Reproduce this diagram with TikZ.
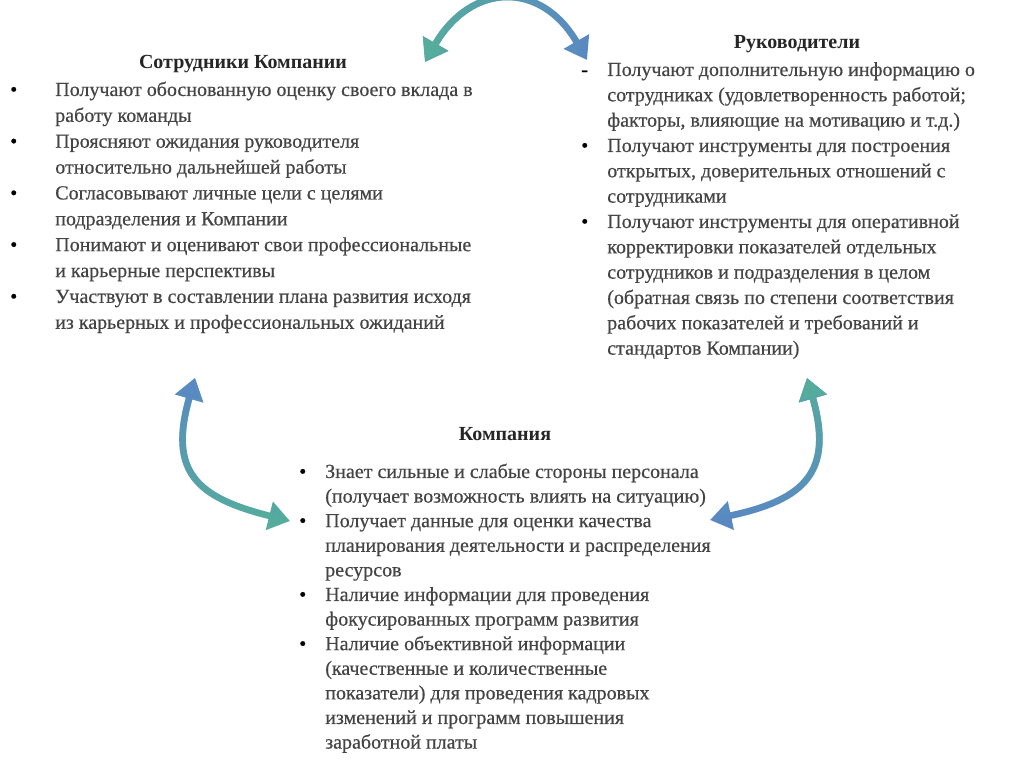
\documentclass[tikz,border=0pt]{standalone}
\usepackage{fontspec}
\setmainfont{Liberation Serif}
\newfontfamily\bodyfont[FakeBold=0.5]{Liberation Serif}
\usetikzlibrary{arrows.meta,fadings}
\definecolor{cgreen}{HTML}{55AE9C}
\definecolor{cblue}{HTML}{5A88C4}
\definecolor{bodyc}{HTML}{444444}
\definecolor{headc}{HTML}{262626}
\tikzfading[name=fadeLR, left color=transparent!0, right color=transparent!100]
\tikzfading[name=fadeTB, top color=transparent!0, bottom color=transparent!100]
\newcommand\bul{\textcolor{black}{•}}
\tikzset{
  hd/.style={font=\bfseries\fontsize{15}{18}\selectfont, text=headc, inner sep=0pt, anchor=base},
  body/.style={inner sep=0pt, anchor=base west, text=bodyc},
  tipx/.tip={Triangle[length=16pt,width=21pt]},
  arrboth/.style={line width=5pt, tipx-tipx},
}
\begin{document}
\begin{tikzpicture}[x=0.75pt,y=0.75pt]
\useasboundingbox[fill=white] (0,0) rectangle (1024,767);

% ---- left block: employees
\node[hd] (lt) at (243,698) {Сотрудники Компании};
\node[body, font=\bodyfont\fontsize{15}{19.4}\selectfont] (lb) at (10,671) {%
\begin{tabular}[t]{@{}p{33.75pt}@{}l@{}}
\bul & Получают обоснованную оценку своего вклада в\\
     & работу команды\\
\bul & Проясняют ожидания руководителя\\
     & относительно дальнейшей работы\\
\bul & Согласовывают личные цели с целями\\
     & подразделения и Компании\\
\bul & Понимают и оценивают свои профессиональные\\
     & и карьерные перспективы\\
\bul & Участвуют в составлении плана развития исходя\\
     & из карьерных и профессиональных ожиданий
\end{tabular}};

% ---- right block: managers
\node[hd] (rt) at (797,718) {Руководители};
\node[body, font=\bodyfont\fontsize{15}{19}\selectfont] (rb) at (581,691) {%
\begin{tabular}[t]{@{}p{19.5pt}@{}l@{}}
\textcolor{black}{-} & Получают дополнительную информацию о\\
     & сотрудниках (удовлетворенность работой;\\
     & факторы, влияющие на мотивацию и т.д.)\\
\bul & Получают инструменты для построения\\
     & открытых, доверительных отношений с\\
     & сотрудниками\\
\bul & Получают инструменты для оперативной\\
     & корректировки показателей отдельных\\
     & сотрудников и подразделения в целом\\
     & (обратная связь по степени соответствия\\
     & рабочих показателей и требований и\\
     & стандартов Компании)
\end{tabular}};

% ---- bottom block: company
\node[hd] (bt) at (505,326) {Компания};
\node[body, font=\bodyfont\fontsize{15}{18.45}\selectfont] (bb) at (299,289) {%
\begin{tabular}[t]{@{}p{19.5pt}@{}l@{}}
\bul & Знает сильные и слабые стороны персонала\\
     & (получает возможность влиять на ситуацию)\\
\bul & Получает данные для оценки качества\\
     & планирования деятельности и распределения\\
     & ресурсов\\
\bul & Наличие информации для проведения\\
     & фокусированных программ развития\\
\bul & Наличие объективной информации\\
     & (качественные и количественные\\
     & показатели) для проведения кадровых\\
     & изменений и программ повышения\\
     & заработной платы
\end{tabular}};

% ---- arrow end points
\coordinate (tA) at (425,705);
\coordinate (tB) at (587,707);
\coordinate (lT) at (195,389);
\coordinate (lU) at (290,246);
\coordinate (rR) at (807,389);
\coordinate (rS) at (710,247);

% top arrow: green (left) -> blue (right)
\draw[arrboth, cblue] (tA) to[out=60,in=120,looseness=1.45] (tB);
\draw[arrboth, cgreen, path fading=fadeLR] (tA) to[out=60,in=120,looseness=1.45] (tB);

% left arrow: blue (top) -> green (bottom)
\draw[arrboth, cgreen] (lT) to[out=-106,in=166,looseness=1.45] (lU);
\draw[arrboth, cblue, path fading=fadeTB] (lT) to[out=-106,in=166,looseness=1.45] (lU);

% right arrow: green (top) -> blue (bottom)
\draw[arrboth, cblue] (rR) to[out=-74,in=12,looseness=1.45] (rS);
\draw[arrboth, cgreen, path fading=fadeTB] (rR) to[out=-74,in=12,looseness=1.45] (rS);
\end{tikzpicture}
\end{document}
